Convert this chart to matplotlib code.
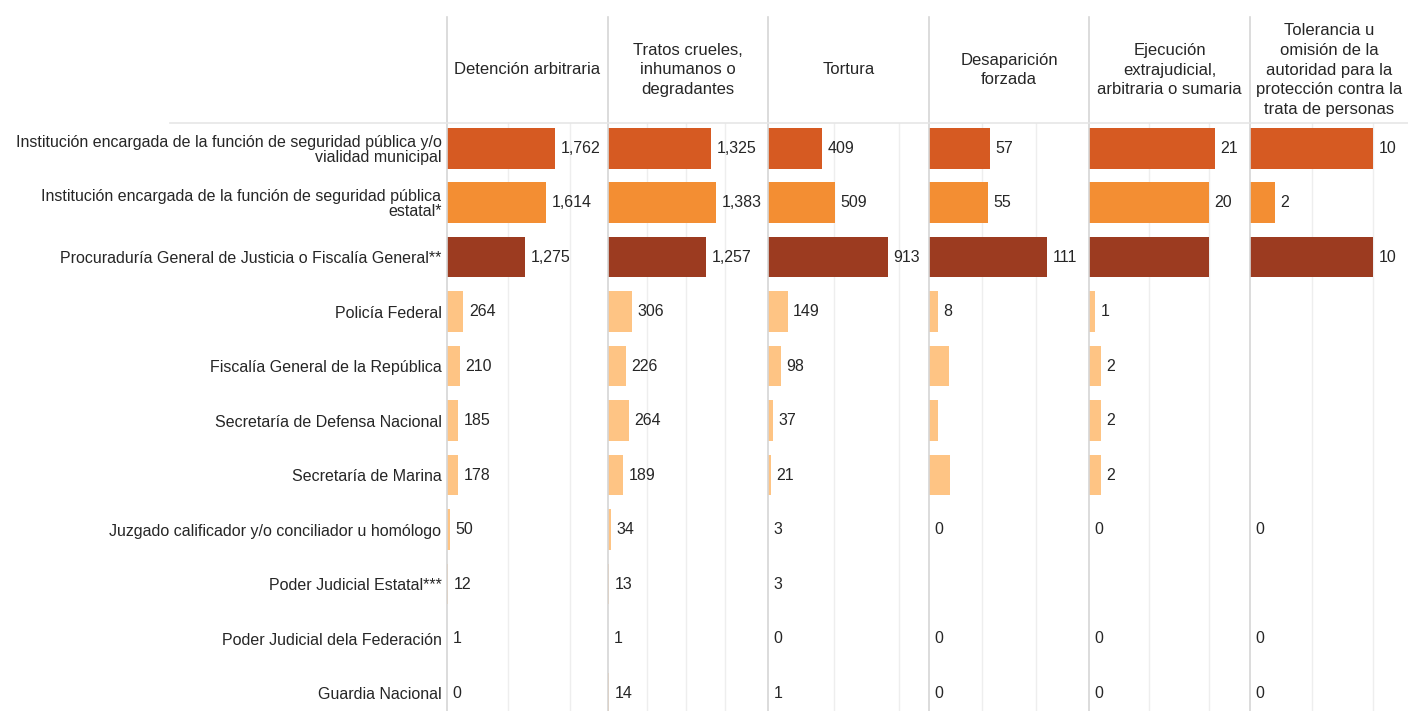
import matplotlib.pyplot as plt
from matplotlib.lines import Line2D

plt.rcParams['font.family'] = ['Liberation Sans', 'DejaVu Sans']

# filas (instituciones)
instituciones = [
    "Institución encargada de la función de seguridad pública y/o\nvialidad municipal",
    "Institución encargada de la función de seguridad pública\nestatal*",
    "Procuraduría General de Justicia o Fiscalía General**",
    "Policía Federal",
    "Fiscalía General de la República",
    "Secretaría de Defensa Nacional",
    "Secretaría de Marina",
    "Juzgado calificador y/o conciliador u homólogo",
    "Poder Judicial Estatal***",
    "Poder Judicial dela Federación",
    "Guardia Nacional",
]

# columnas (tipo de violación)
violaciones = [
    "Detención arbitraria",
    "Tratos crueles,\ninhumanos o\ndegradantes",
    "Tortura",
    "Desaparición\nforzada",
    "Ejecución\nextrajudicial,\narbitraria o sumaria",
    "Tolerancia u\nomisión de la\nautoridad para la\nprotección contra la\ntrata de personas",
]

# valores (None = celda vacía)
detencion = [1762, 1614, 1275, 264, 210, 185, 178, 50, 12, 1, 0]
tratos = [1325, 1383, 1257, 306, 226, 264, 189, 34, 13, 1, 14]
tortura = [409, 509, 913, 149, 98, 37, 21, 3, 3, 0, 1]
desaparicion = [57, 55, 111, 8, 19, 8, 20, 0, None, 0, 0]
ejecucion = [21, 20, 20, 1, 2, 2, 2, 0, None, 0, 0]
tolerancia = [10, 2, 10, None, None, None, None, 0, None, 0, 0]
valores = [detencion, tratos, tortura, desaparicion, ejecucion, tolerancia]

# etiquetas que no aparecen en el original (columna, fila)
ocultas = {(3, 4), (3, 5), (3, 6), (4, 2)}

# escalas de cada panel
x_max = [2620, 2050, 1225, 150, 26.9, 12.8]
rejilla = [[1000, 2000], [500, 1000, 1500], [500, 1000], [50, 100], [10, 20], [5, 10]]

colores = ['#D65A22', '#F38E33', '#9C3B20'] + ['#FEC484'] * 8

W, H = 1408, 711
fig = plt.figure(figsize=(W / 100, H / 100), dpi=100, facecolor='white')

panel_x = [447, 608, 768, 929, 1089, 1250, 1408]
top_px = 123
n = len(instituciones)
txt = '#262626'
fs = 11.5

for j, vals in enumerate(valores):
    x0, x1 = panel_x[j], panel_x[j + 1]
    ax = fig.add_axes([x0 / W, 0, (x1 - x0) / W, (H - top_px) / H])
    for i, v in enumerate(vals):
        if v is None:
            continue
        ax.barh(i, v, height=0.75, color=colores[i], zorder=2)
        if (j, i) not in ocultas:
            ax.annotate(f"{v:,}", (v, i), xytext=(4, 0), textcoords='offset points',
                        va='center', ha='left', fontsize=fs, color=txt)
    ax.set_xlim(0, x_max[j])
    ax.set_ylim(n - 1 + 0.33, -0.46)
    ax.set_xticks(rejilla[j])
    ax.xaxis.grid(True, color='#eeeeee', lw=1, zorder=0)
    ax.tick_params(length=0, labelbottom=False)
    for s in ['top', 'right', 'bottom']:
        ax.spines[s].set_visible(False)
    ax.spines['left'].set_color('#d6d6d6')
    ax.spines['left'].set_linewidth(1.2)
    if j == 0:
        ax.set_yticks(range(n))
        ax.set_yticklabels(instituciones, fontsize=fs, color=txt)
        ax.tick_params(axis='y', pad=4)
        for lab in ax.get_yticklabels():
            lab.set_linespacing(1.0)
    else:
        ax.set_yticks([])

    # encabezado
    fig.text((x0 + x1) / 2 / W, 1 - 70 / H, violaciones[j], ha='center', va='center',
             fontsize=12, color=txt, linespacing=1.38)
    fig.add_artist(Line2D([x0 / W, x0 / W], [1 - 17 / H, 1 - top_px / H],
                          color='#d6d6d6', lw=1.2))

# línea bajo el encabezado
fig.add_artist(Line2D([170 / W, 1], [1 - top_px / H, 1 - top_px / H],
                      color='#e6e6e6', lw=1.2))

fig.savefig('out.png', dpi=100, facecolor='white')
